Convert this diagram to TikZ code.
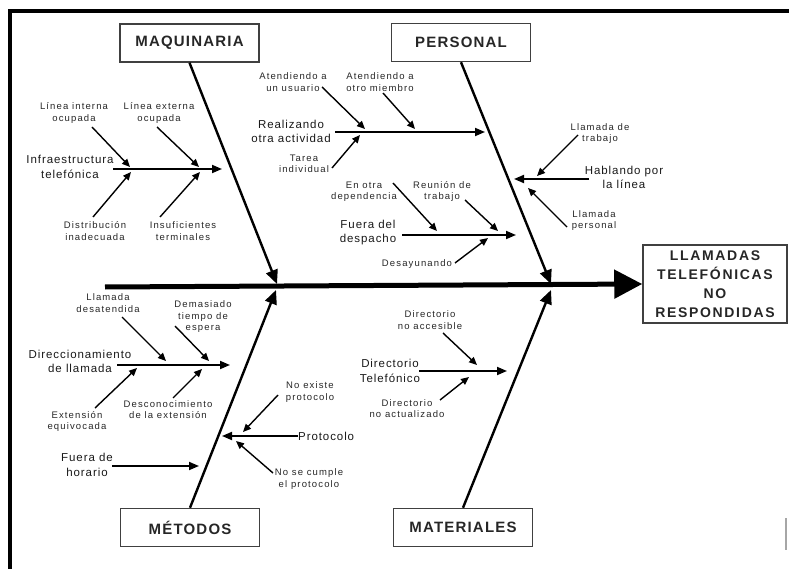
\documentclass[tikz,border=0pt]{standalone}
\usepackage{fontspec}
\setmainfont{Liberation Sans}
\newfontfamily\smallf[LetterSpace=12]{Liberation Sans}
\newfontfamily\midf[LetterSpace=8]{Liberation Sans}
\newfontfamily\catf[LetterSpace=8]{Liberation Sans}
\newfontfamily\efff[LetterSpace=12]{Liberation Sans}
\usetikzlibrary{arrows.meta}
\tikzset{
  lbl/.style={font=\smallf\fontsize{9.5}{11.5}\selectfont, align=center, inner sep=0pt, text=black!85},
  midlbl/.style={font=\midf\fontsize{11.5}{14.5}\selectfont, align=center, inner sep=0pt, text=black!90},
  catbox/.style={draw=black!75, line width=1.5pt, minimum width=139pt, minimum height=38pt, inner sep=0pt,
    font=\catf\bfseries\fontsize{15}{17}\selectfont, text=black!85},
  effbox/.style={draw=black!75, line width=1.5pt, minimum width=144pt, minimum height=78pt, inner sep=0pt,
    align=center, font=\efff\bfseries\fontsize{14}{19}\selectfont, text=black!85},
  bone/.style={line width=2.4pt, -{Triangle[length=14pt,width=12pt]}},
  subarrow/.style={line width=1.8pt, -{Triangle[length=10pt,width=8pt]}},
  twig/.style={line width=1.4pt, -{Triangle[length=8pt,width=7pt]}},
  spine/.style={line width=5pt, -{Triangle[length=28pt,width=28pt]}}
}
\begin{document}
\begin{tikzpicture}[x=1pt,y=-1pt]
\useasboundingbox (0,0) rectangle (789,569);
% frame
\draw[line width=4pt] (10,569) -- (10,11) -- (789,11);
\draw[line width=1.5pt, black!35] (786,518) -- (786,550);

% effect and categories
\node[effbox] (eff) at (715,284) {LLAMADAS\\TELEFÓNICAS\\NO\\RESPONDIDAS};
\node[catbox] (maq) at (189.5,43) {MAQUINARIA};
\node[catbox] (per) at (461,42.5) {PERSONAL};
\node[catbox] (met) at (190,527.5) {MÉTODOS};
\node[catbox] (mat) at (463,527.5) {MATERIALES};

% spine
\coordinate (spS) at (105,287);
\draw[spine] (spS) -- (eff.west);

\coordinate (maqE) at (277,284);
\coordinate (perE) at (551,284);
\coordinate (metE) at (276,290);
\coordinate (matE) at (551,290);
\draw[bone] (maq.south) -- (maqE);
\draw[bone] (per.south) -- (perE);
\draw[bone] (met.north) -- (metE);
\draw[bone] (mat.north) -- (matE);

% ---------- MAQUINARIA ----------
\node[midlbl] (inf) at (70,167) {Infraestructura\\telefónica};
\coordinate (infS) at (113,169);
\coordinate (infE) at (222,169);
\draw[subarrow] (infS) -- (infE);
\node[lbl] (lio) at (74,113) {Línea interna\\ocupada};
\coordinate (lioS) at (92,127); \coordinate (lioE) at (130,167);
\draw[twig] (lioS) -- (lioE);
\node[lbl] (leo) at (159,113) {Línea externa\\ocupada};
\coordinate (leoS) at (157,127); \coordinate (leoE) at (199,167);
\draw[twig] (leoS) -- (leoE);
\node[lbl] (dis) at (95,231) {Distribución\\inadecuada};
\coordinate (disS) at (93,217); \coordinate (disE) at (131,172);
\draw[twig] (disS) -- (disE);
\node[lbl] (ins) at (183,231) {Insuficientes\\terminales};
\coordinate (insS) at (160,217); \coordinate (insE) at (200,172);
\draw[twig] (insS) -- (insE);

% ---------- PERSONAL ----------
\node[midlbl] (rea) at (291,131.5) {Realizando\\otra actividad};
\coordinate (reaS) at (335,132); \coordinate (reaE) at (485,132);
\draw[subarrow] (reaS) -- (reaE);
\node[lbl] (aus) at (293,82) {Atendiendo a\\un usuario};
\coordinate (ausS) at (322,87); \coordinate (ausE) at (365,129);
\draw[twig] (ausS) -- (ausE);
\node[lbl] (aom) at (380,82) {Atendiendo a\\otro miembro};
\coordinate (aomS) at (383,93); \coordinate (aomE) at (415,129);
\draw[twig] (aomS) -- (aomE);
\node[lbl] (tar) at (304,164) {Tarea\\individual};
\coordinate (tarS) at (332,168); \coordinate (tarE) at (360,135);
\draw[twig] (tarS) -- (tarE);

\node[midlbl] (fue) at (368,232.5) {Fuera del\\despacho};
\coordinate (fueS) at (402,235); \coordinate (fueE) at (516,235);
\draw[subarrow] (fueS) -- (fueE);
\node[lbl] (eod) at (364,191.5) {En otra\\dependencia};
\coordinate (eodS) at (393,183); \coordinate (eodE) at (437,231);
\draw[twig] (eodS) -- (eodE);
\node[lbl] (reu) at (442,191.5) {Reunión de\\trabajo};
\coordinate (reuS) at (465,200); \coordinate (reuE) at (498,231);
\draw[twig] (reuS) -- (reuE);
\node[lbl] (des) at (417,264) {Desayunando};
\coordinate (desS) at (455,263); \coordinate (desE) at (488,238);
\draw[twig] (desS) -- (desE);

\node[midlbl] (hab) at (624,177.5) {Hablando por\\la línea};
\coordinate (habS) at (589,179); \coordinate (habE) at (514,179);
\draw[subarrow] (habS) -- (habE);
\node[lbl] (lla) at (600,133.5) {Llamada de\\trabajo};
\coordinate (llaS) at (578,135); \coordinate (llaE) at (537,176);
\draw[twig] (llaS) -- (llaE);
\node[lbl] (llp) at (594,220.5) {Llamada\\personal};
\coordinate (llpS) at (567,227); \coordinate (llpE) at (528,188);
\draw[twig] (llpS) -- (llpE);

% ---------- METODOS ----------
\node[midlbl] (dir) at (80,361.5) {Direccionamiento\\de llamada};
\coordinate (dirS) at (117,365); \coordinate (dirE) at (230,365);
\draw[subarrow] (dirS) -- (dirE);
\node[lbl] (lld) at (108,303) {Llamada\\desatendida};
\coordinate (lldS) at (122,317); \coordinate (lldE) at (166,361);
\draw[twig] (lldS) -- (lldE);
\node[lbl] (dem) at (203,317) {Demasiado\\tiempo de\\espera};
\coordinate (demS) at (175,326); \coordinate (demE) at (209,361);
\draw[twig] (demS) -- (demE);
\node[lbl] (ext) at (77,421.5) {Extensión\\equivocada};
\coordinate (extS) at (95,408); \coordinate (extE) at (137,368);
\draw[twig] (extS) -- (extE);
\node[lbl] (dsc) at (168,409.5) {Desconocimiento\\de la extensión};
\coordinate (dscS) at (173,398); \coordinate (dscE) at (202,369);
\draw[twig] (dscS) -- (dscE);

\node[midlbl, anchor=west] (pro) at (298,436) {Protocolo};
\coordinate (proE) at (222,436);
\draw[subarrow] (pro.west) -- (proE);
\node[lbl] (nep) at (310,392) {No existe\\protocolo};
\coordinate (nepS) at (278,395); \coordinate (nepE) at (243,432);
\draw[twig] (nepS) -- (nepE);
\node[lbl] (nsc) at (309,479) {No se cumple\\el protocolo};
\coordinate (nscS) at (273,473); \coordinate (nscE) at (236,441);
\draw[twig] (nscS) -- (nscE);

\node[midlbl] (fdh) at (87,465) {Fuera de\\horario};
\coordinate (fdhS) at (112,466); \coordinate (fdhE) at (199,466);
\draw[subarrow] (fdhS) -- (fdhE);

% ---------- MATERIALES ----------
\node[midlbl] (dte) at (390,371) {Directorio\\Telefónico};
\coordinate (dteS) at (419,371); \coordinate (dteE) at (507,371);
\draw[subarrow] (dteS) -- (dteE);
\node[lbl] (dna) at (430,320) {Directorio\\no accesible};
\coordinate (dnaS) at (443,333); \coordinate (dnaE) at (477,365);
\draw[twig] (dnaS) -- (dnaE);
\node[lbl] (dnac) at (407,408.5) {Directorio\\no actualizado};
\coordinate (dnacS) at (440,400); \coordinate (dnacE) at (469,377);
\draw[twig] (dnacS) -- (dnacE);
\end{tikzpicture}
\end{document}
